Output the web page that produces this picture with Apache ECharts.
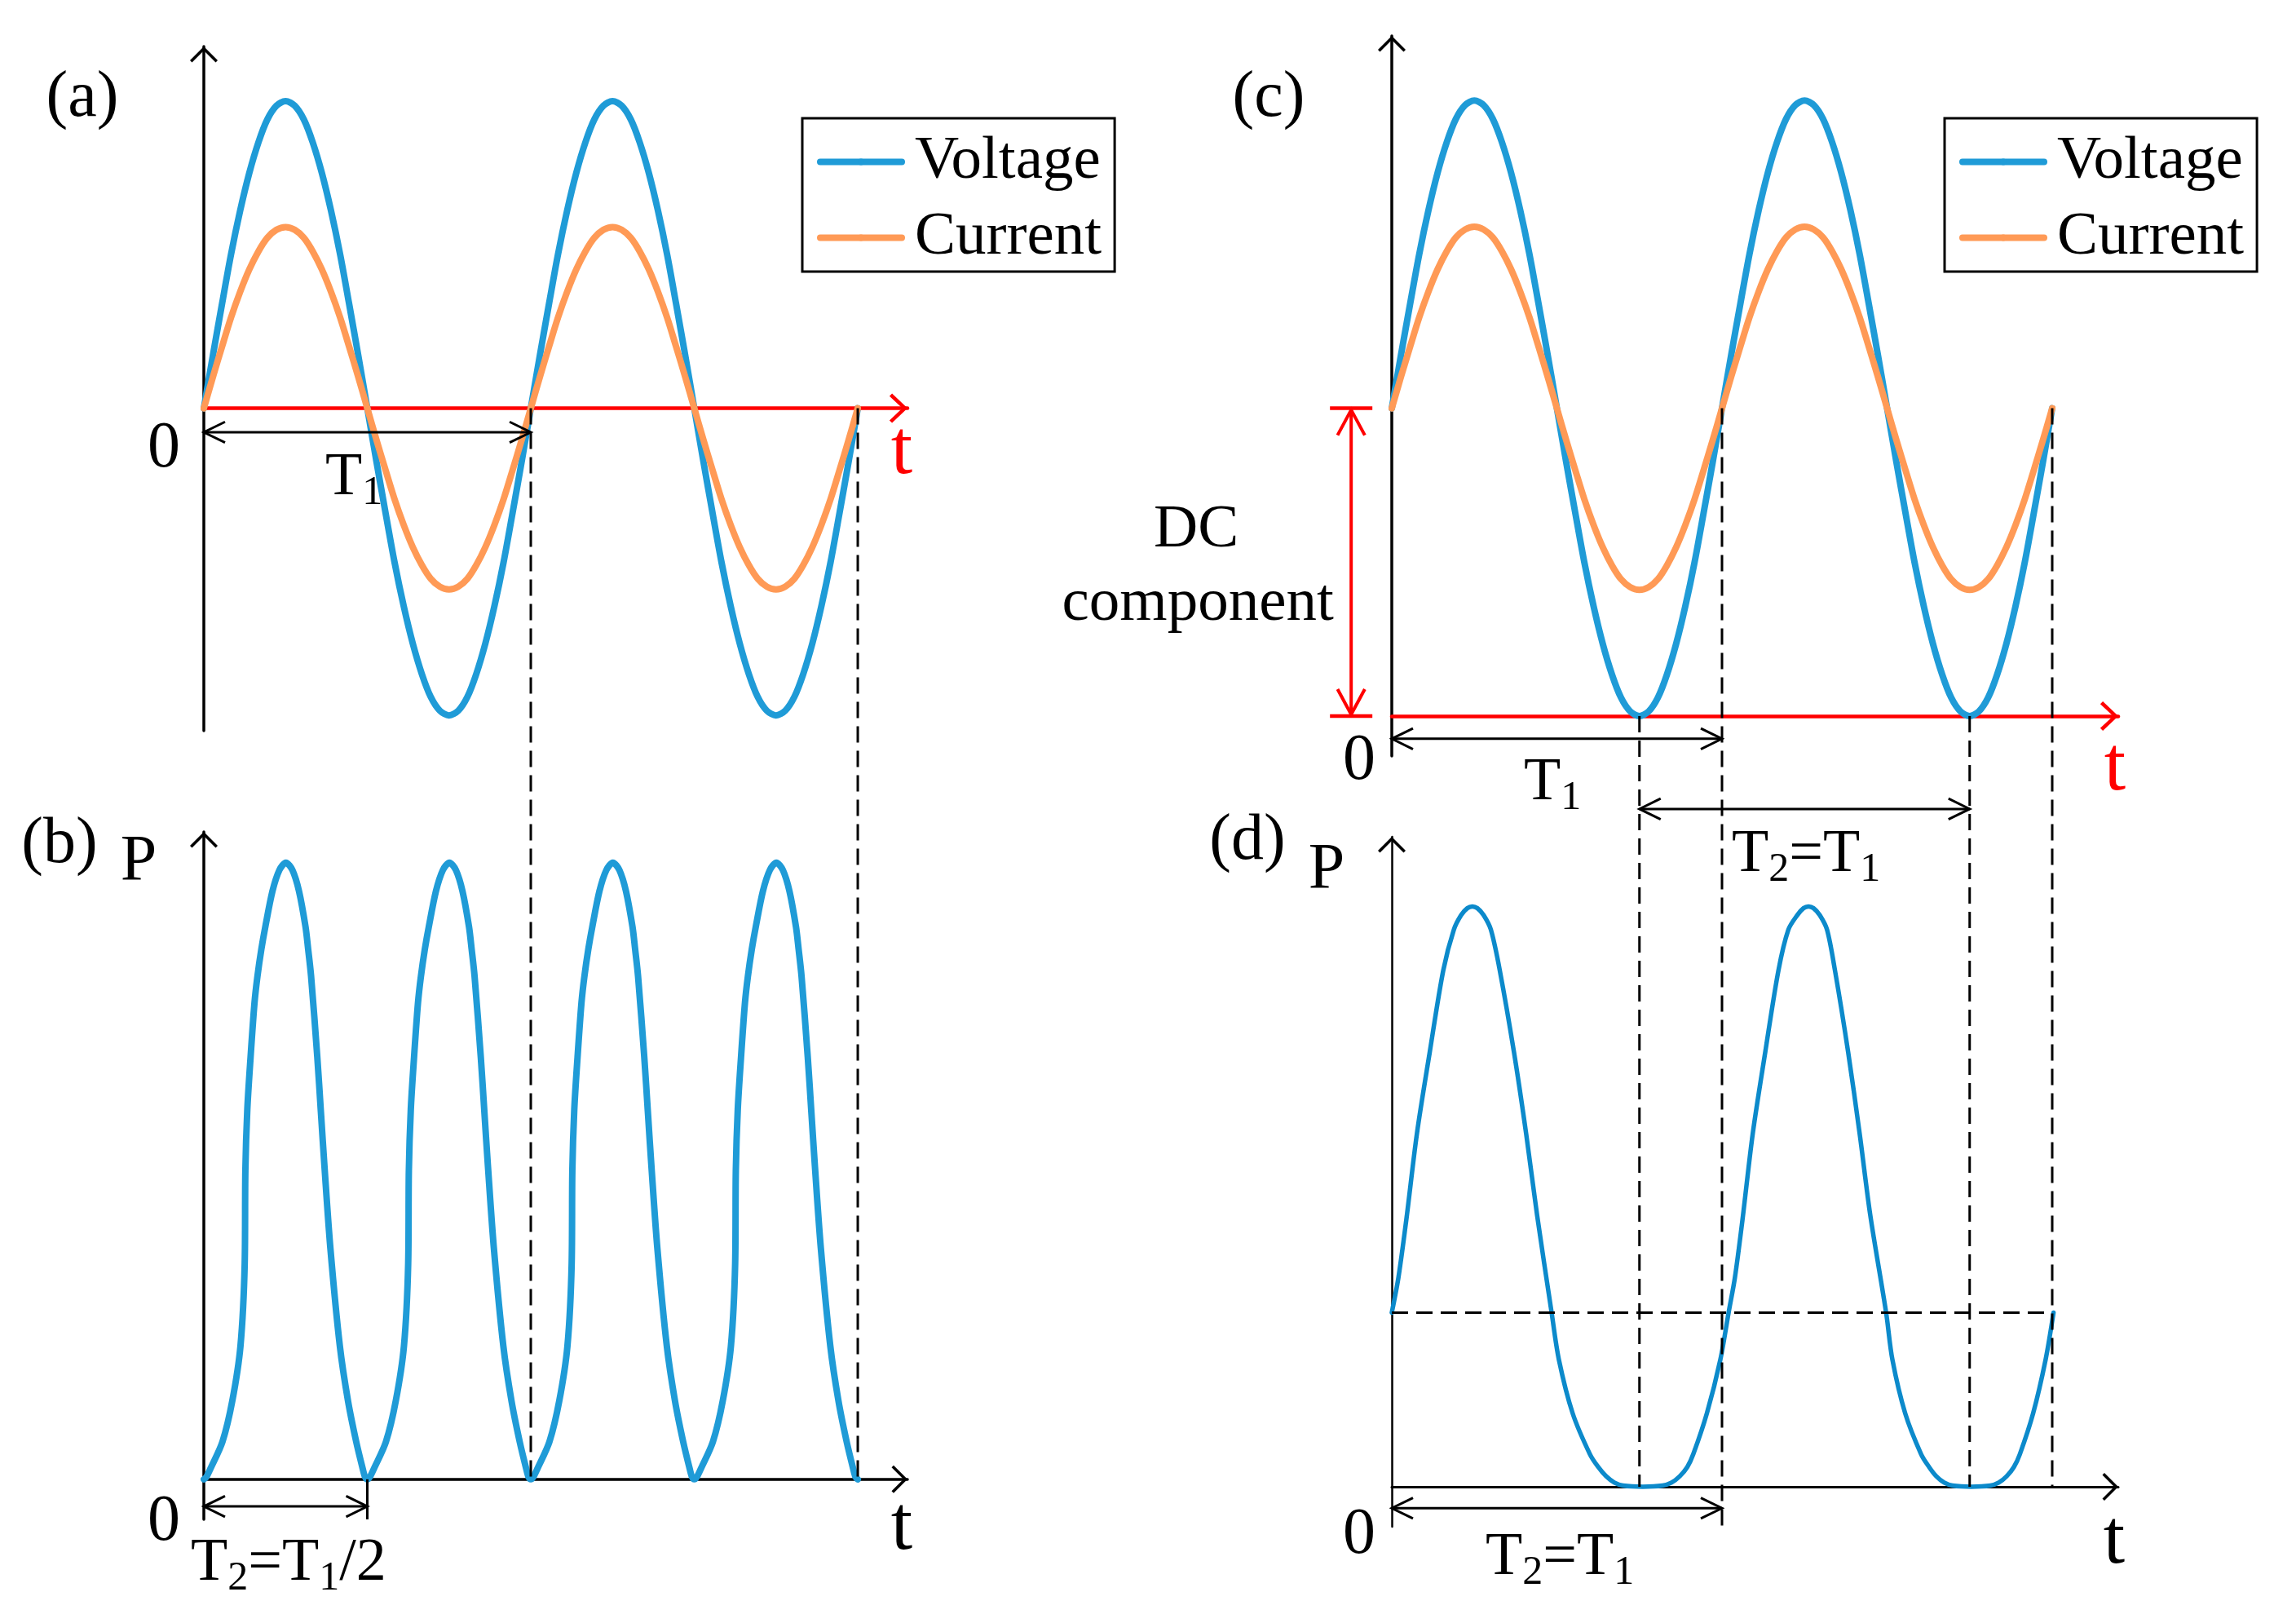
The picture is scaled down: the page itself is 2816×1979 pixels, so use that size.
<!DOCTYPE html>
<html><head><meta charset="utf-8">
<script src="https://cdn.jsdelivr.net/npm/echarts@6/dist/echarts.min.js"></script>
<style>html,body{margin:0;padding:0;background:#fff}#chart{width:2816px;height:1979px}</style>
</head><body><div id="chart"></div>
<script>
// ---------- data (time in units of T1) ----------
const tAC = [0,0.028,0.056,0.083,0.111,0.139,0.167,0.194,0.222,0.25,0.278,0.306,0.333,0.361,0.389,0.417,0.444,0.472,0.5,0.528,0.556,0.583,0.611,0.639,0.667,0.694,0.722,0.75,0.778,0.806,0.833,0.861,0.889,0.917,0.944,0.972,
  1,1.028,1.056,1.083,1.111,1.139,1.167,1.194,1.222,1.25,1.278,1.306,1.333,1.361,1.389,1.417,1.444,1.472,1.5,1.528,1.556,1.583,1.611,1.639,1.667,1.694,1.722,1.75,1.778,1.806,1.833,1.861,1.889,1.917,1.944,1.972,2];
const voltageA = [0,0.174,0.342,0.5,0.643,0.766,0.866,0.94,0.985,1,0.985,0.94,0.866,0.766,0.643,0.5,0.342,0.174,0,-0.174,-0.342,-0.5,-0.643,-0.766,-0.866,-0.94,-0.985,-1,-0.985,-0.94,-0.866,-0.766,-0.643,-0.5,-0.342,-0.174,
  0,0.174,0.342,0.5,0.643,0.766,0.866,0.94,0.985,1,0.985,0.94,0.866,0.766,0.643,0.5,0.342,0.174,0,-0.174,-0.342,-0.5,-0.643,-0.766,-0.866,-0.94,-0.985,-1,-0.985,-0.94,-0.866,-0.766,-0.643,-0.5,-0.342,-0.174,0];
const currentA = [0,0.103,0.202,0.295,0.379,0.452,0.511,0.555,0.581,0.59,0.581,0.555,0.511,0.452,0.379,0.295,0.202,0.103,0,-0.103,-0.202,-0.295,-0.379,-0.452,-0.511,-0.555,-0.581,-0.59,-0.581,-0.555,-0.511,-0.452,-0.379,-0.295,-0.202,-0.103,
  0,0.103,0.202,0.295,0.379,0.452,0.511,0.555,0.581,0.59,0.581,0.555,0.511,0.452,0.379,0.295,0.202,0.103,0,-0.103,-0.202,-0.295,-0.379,-0.452,-0.511,-0.555,-0.581,-0.59,-0.581,-0.555,-0.511,-0.452,-0.379,-0.295,-0.202,-0.103,0];
const voltageC = [1,1.174,1.342,1.5,1.643,1.766,1.866,1.94,1.985,2,1.985,1.94,1.866,1.766,1.643,1.5,1.342,1.174,1,0.826,0.658,0.5,0.357,0.234,0.134,0.06,0.015,0,0.015,0.06,0.134,0.234,0.357,0.5,0.658,0.826,
  1,1.174,1.342,1.5,1.643,1.766,1.866,1.94,1.985,2,1.985,1.94,1.866,1.766,1.643,1.5,1.342,1.174,1,0.826,0.658,0.5,0.357,0.234,0.134,0.06,0.015,0,0.015,0.06,0.134,0.234,0.357,0.5,0.658,0.826,1];
const currentC = [1,1.103,1.202,1.295,1.379,1.452,1.511,1.555,1.581,1.59,1.581,1.555,1.511,1.452,1.379,1.295,1.202,1.103,1,0.897,0.798,0.705,0.621,0.548,0.489,0.445,0.419,0.41,0.419,0.445,0.489,0.548,0.621,0.705,0.798,0.897,
  1,1.103,1.202,1.295,1.379,1.452,1.511,1.555,1.581,1.59,1.581,1.555,1.511,1.452,1.379,1.295,1.202,1.103,1,0.897,0.798,0.705,0.621,0.548,0.489,0.445,0.419,0.41,0.419,0.445,0.489,0.548,0.621,0.705,0.798,0.897,1];

const tB = [
  0,0.008,0.02,0.057,0.087,0.112,0.125,0.127,0.133,0.143,0.155,0.164,0.176,0.188,0.21,0.231,0.251,0.271,0.291,0.311,0.319,0.328,0.347,0.358,0.369,0.387,0.416,0.441,0.466,0.486,0.493,
  0.5,0.508,0.52,0.557,0.587,0.612,0.625,0.627,0.633,0.643,0.655,0.664,0.676,0.688,0.71,0.731,0.751,0.771,0.791,0.811,0.819,0.828,0.847,0.858,0.869,0.887,0.916,0.941,0.966,0.986,0.993,
  1,1.008,1.02,1.057,1.087,1.112,1.125,1.127,1.133,1.143,1.155,1.164,1.176,1.188,1.21,1.231,1.251,1.271,1.291,1.311,1.319,1.328,1.347,1.358,1.369,1.387,1.416,1.441,1.466,1.486,1.493,
  1.5,1.508,1.52,1.557,1.587,1.612,1.625,1.627,1.633,1.643,1.655,1.664,1.676,1.688,1.71,1.731,1.751,1.771,1.791,1.811,1.819,1.828,1.847,1.858,1.869,1.887,1.916,1.941,1.966,1.986,1.993,
  2];
const powerB = [
  0,0.004,0.017,0.061,0.127,0.216,0.35,0.5,0.6,0.685,0.773,0.816,0.86,0.896,0.954,0.988,1,0.988,0.954,0.896,0.86,0.816,0.685,0.596,0.507,0.375,0.216,0.127,0.061,0.017,0.004,
  0,0.004,0.017,0.061,0.127,0.216,0.35,0.5,0.6,0.685,0.773,0.816,0.86,0.896,0.954,0.988,1,0.988,0.954,0.896,0.86,0.816,0.685,0.596,0.507,0.375,0.216,0.127,0.061,0.017,0.004,
  0,0.004,0.017,0.061,0.127,0.216,0.35,0.5,0.6,0.685,0.773,0.816,0.86,0.896,0.954,0.988,1,0.988,0.954,0.896,0.86,0.816,0.685,0.596,0.507,0.375,0.216,0.127,0.061,0.017,0.004,
  0,0.004,0.017,0.061,0.127,0.216,0.35,0.5,0.6,0.685,0.773,0.816,0.86,0.896,0.954,0.988,1,0.988,0.954,0.896,0.86,0.816,0.685,0.596,0.507,0.375,0.216,0.127,0.061,0.017,0.004,
  0];

const tD = [0,0.02,0.044,0.076,0.115,0.156,0.188,0.21,0.229,0.244,0.259,0.278,0.3,0.327,0.37,0.407,0.44,0.484,0.506,0.548,0.6,0.625,0.649,0.674,0.7,0.76,0.82,0.847,0.872,0.895,0.913,0.954,0.995,1.02,
  1.039,1.062,1.093,1.131,1.171,1.201,1.228,1.247,1.262,1.277,1.296,1.318,1.342,1.382,1.417,1.449,1.497,1.516,1.555,1.603,1.627,1.649,1.673,1.698,1.755,1.813,1.838,1.862,1.884,1.902,1.942,1.98,2.004];
const powerD = [0.3,0.36,0.46,0.608,0.749,0.89,0.96,0.985,0.997,1,0.997,0.985,0.96,0.89,0.749,0.608,0.468,0.3,0.219,0.126,0.056,0.034,0.018,0.007,0.002,0,0.002,0.007,0.018,0.034,0.056,0.126,0.219,0.3,
  0.36,0.46,0.608,0.749,0.89,0.96,0.985,0.997,1,0.997,0.985,0.96,0.89,0.749,0.608,0.468,0.3,0.219,0.126,0.056,0.034,0.018,0.007,0.002,0,0.002,0.007,0.018,0.034,0.056,0.126,0.219,0.3];
const meanPowerD = 0.3;

const seriesNames = ['Voltage', 'Current'];
const panelLabels = ['(a)', '(b)', '(c)', '(d)'];

// ---------- styling ----------
const FONT = 'Liberation Serif';
const BLUE = '#1F9BD7', ORANGE = '#FF9A56', BLUE_D = '#0C8ACB', RED = '#FF0000';
const CHEV = 'path://M17,0 L34,17 L31.5,19.5 L17,5 L2.5,19.5 L0,17 Z';
const CHEV_R = 'path://M18,0 L36,19 L32.8,22.2 L18,6.4 L3.2,22.2 L0,19 Z';

const zip = (xs, ys) => xs.map((x, i) => [x, ys[i]]);

function xAx(gi, max, color, lw, red) {
  return { type: 'value', gridIndex: gi, min: 0, max: max,
    axisLine: { onZero: true, lineStyle: { color: color, width: lw },
      symbol: ['none', red ? CHEV_R : CHEV], symbolSize: red ? [36, 22.2] : [34, 19.5], symbolOffset: [0, red ? -11 : -9.75] },
    axisTick: { show: false }, axisLabel: { show: false }, splitLine: { show: false } };
}
function yAx(gi, min, max, lw) {
  return { type: 'value', gridIndex: gi, min: min, max: max,
    axisLine: { onZero: false, lineStyle: { color: '#000', width: lw },
      symbol: ['none', CHEV], symbolSize: [34, 19.5], symbolOffset: [0, -9.75] },
    axisTick: { show: false }, axisLabel: { show: false }, splitLine: { show: false } };
}
function legendAt(left) {
  return { data: seriesNames, orient: 'vertical', left: left, top: 145,
    itemWidth: 100, itemHeight: 10, itemGap: 18, padding: [16, 16, 4, 18],
    borderColor: '#000', borderWidth: 3, backgroundColor: '#fff',
    lineStyle: { width: 8, cap: 'round' }, selectedMode: false,
    textStyle: { fontFamily: FONT, fontSize: 75, color: '#000', padding: [0, 0, 0, 11] } };
}
function line(name, xi, data, color, w, sm) {
  return { name: name, type: 'line', xAxisIndex: xi, yAxisIndex: xi, data: data,
    symbol: 'none', smooth: sm, animation: false,
    lineStyle: { color: color, width: w, cap: 'round', join: 'round' }, itemStyle: { color: color } };
}

const chart = echarts.init(document.getElementById('chart'), null, { renderer: 'canvas' });
chart.setOption({
  animation: false,
  backgroundColor: '#fff',
  grid: [
    { left: 250, top: 57, width: 863, height: 839 },
    { left: 250, top: 1020, width: 863, height: 843 },
    { left: 1707, top: 44, width: 891, height: 883 },
    { left: 1707, top: 1026, width: 891, height: 846 }
  ],
  xAxis: [ xAx(0, 2.152, RED, 4.5, true), xAx(1, 2.152, '#000', 3.5, false),
           xAx(2, 2.2, RED, 4.5, true), xAx(3, 2.2, '#000', 3, false) ],
  yAxis: [ yAx(0, -1.05, 1.178, 3.5), yAx(1, -0.065, 1.05, 3.5),
           yAx(2, -0.13, 2.21, 3.5), yAx(3, -0.069, 1.12, 2.5) ],
  legend: [ legendAt(984), legendAt(2385) ],
  series: [
    line(seriesNames[0], 0, zip(tAC, voltageA), BLUE, 8, 0.3),
    line(seriesNames[1], 0, zip(tAC, currentA), ORANGE, 8, 0.3),
    line('P1', 1, zip(tB, powerB), BLUE, 8, 0.3),
    line(seriesNames[0], 2, zip(tAC, voltageC), BLUE, 8, 0.3),
    line(seriesNames[1], 2, zip(tAC, currentC), ORANGE, 8, 0.3),
    line('P2', 3, zip(tD, powerD), BLUE_D, 5.5, 0.3)
  ]
});

// ---------- annotations positioned through the axes ----------
const px = (g, pt) => chart.convertToPixel({ gridIndex: g }, pt);
const G = [];
function dashed(p1, p2) {
  G.push({ type: 'line', z: 20, shape: { x1: p1[0], y1: p1[1], x2: p2[0], y2: p2[1] },
    style: { stroke: '#000', lineWidth: 3, lineDash: [20, 10] } });
}
function solid(p1, p2, color, lw) {
  G.push({ type: 'line', z: 20, shape: { x1: p1[0], y1: p1[1], x2: p2[0], y2: p2[1] },
    style: { stroke: color, lineWidth: lw } });
}
function dblArrow(p1, p2, color, lw, len, half) {
  const dx = p2[0] - p1[0], dy = p2[1] - p1[1], L = Math.hypot(dx, dy);
  const ux = dx / L, uy = dy / L, nx = -uy, ny = ux;
  solid(p1, p2, color, lw);
  [[p1, 1], [p2, -1]].forEach(([p, s]) => {
    G.push({ type: 'polyline', z: 20, shape: { points: [
      [p[0] + s * ux * len + nx * half, p[1] + s * uy * len + ny * half], p,
      [p[0] + s * ux * len - nx * half, p[1] + s * uy * len - ny * half]] },
      style: { stroke: color, lineWidth: lw, fill: null, lineJoin: 'miter' } });
  });
}
function label(x, y, text, size, color, align) {
  G.push({ type: 'text', z: 30, x: x, y: y,
    style: { text: text, fontFamily: FONT, fontSize: size, fill: color || '#000',
      align: align || 'center', verticalAlign: 'middle' } });
}
function subLabel(x, y, parts) {
  const txt = parts.map(p => '{' + (p[1] ? 's' : 'n') + '|' + p[0] + '}').join('');
  G.push({ type: 'text', z: 30, x: x, y: y,
    style: { text: txt, align: 'left', verticalAlign: 'middle',
      rich: { n: { fontFamily: FONT, fontSize: 74, fill: '#000' },
              s: { fontFamily: FONT, fontSize: 50, fill: '#000', padding: [36, 0, 0, 0] } } } });
}

// vertical dashed guides between panels
dashed(px(0, [1, 0]), px(1, [1, 0]));
dashed(px(0, [2, 0]), px(1, [2, 0]));
dashed(px(2, [0.75, 0]), px(3, [0.75, 0]));
dashed(px(2, [1, 1]), px(3, [1, -0.076]));
dashed(px(2, [1.75, 0]), px(3, [1.75, 0]));
dashed(px(2, [2, 1]), px(3, [2, 0]));
dashed(px(3, [0, meanPowerD]), px(3, [2, meanPowerD]));
solid(px(1, [0.5, 0]), px(1, [0.5, -0.065]), '#000', 3);

// period arrows
dblArrow(px(0, [0, -0.078]), px(0, [1, -0.078]), '#000', 3, 26, 12.7);
dblArrow(px(1, [0, -0.044]), px(1, [0.5, -0.044]), '#000', 3, 26, 12.7);
dblArrow(px(2, [0, -0.074]), px(2, [1, -0.074]), '#000', 3, 26, 12.7);
dblArrow(px(2, [0.75, -0.302]), px(2, [1.75, -0.302]), '#000', 3, 26, 12.7);
dblArrow(px(3, [0, -0.037]), px(3, [1, -0.037]), '#000', 3, 26, 12.7);

// DC component arrow
const dcTop = px(2, [-0.123, 1]), dcBot = px(2, [-0.123, 0]);
dblArrow([dcTop[0], dcTop[1] + 2], [dcBot[0], dcBot[1] - 2], RED, 4, 31, 16.7);
solid([dcTop[0] - 26, dcTop[1]], [dcTop[0] + 26, dcTop[1]], RED, 4.5);
solid([dcBot[0] - 26, dcBot[1]], [dcBot[0] + 26, dcBot[1]], RED, 4.5);
label(dcTop[0] - 190, 650, 'DC', 75);
label(dcTop[0] - 188, 740, 'component', 75);

// panel letters, axis names and origins
label(101, 121, panelLabels[0], 80);
label(73, 1036, panelLabels[1], 80);
label(1556, 121, panelLabels[2], 80);
label(1530, 1032, panelLabels[3], 80);
label(170, 1058, 'P', 80);
label(1627, 1068, 'P', 80);
label(201, 551, '0', 80);
label(201, 1867, '0', 80);
label(1667, 934, '0', 80);
label(1667, 1883, '0', 80);
label(1106, 555, 't', 95, RED);
label(1106, 1874, 't', 95);
label(2594, 943, 't', 95, RED);
label(2593, 1891, 't', 95);

// period labels
subLabel(399, 587, [['T', 0], ['1', 1]]);
subLabel(1869, 961, [['T', 0], ['1', 1]]);
subLabel(234, 1918, [['T', 0], ['2', 1], ['=T', 0], ['1', 1], ['/2', 0]]);
subLabel(2124, 1049, [['T', 0], ['2', 1], ['=T', 0], ['1', 1]]);
subLabel(1822, 1911, [['T', 0], ['2', 1], ['=T', 0], ['1', 1]]);

chart.setOption({ graphic: G });
</script>
</body></html>
